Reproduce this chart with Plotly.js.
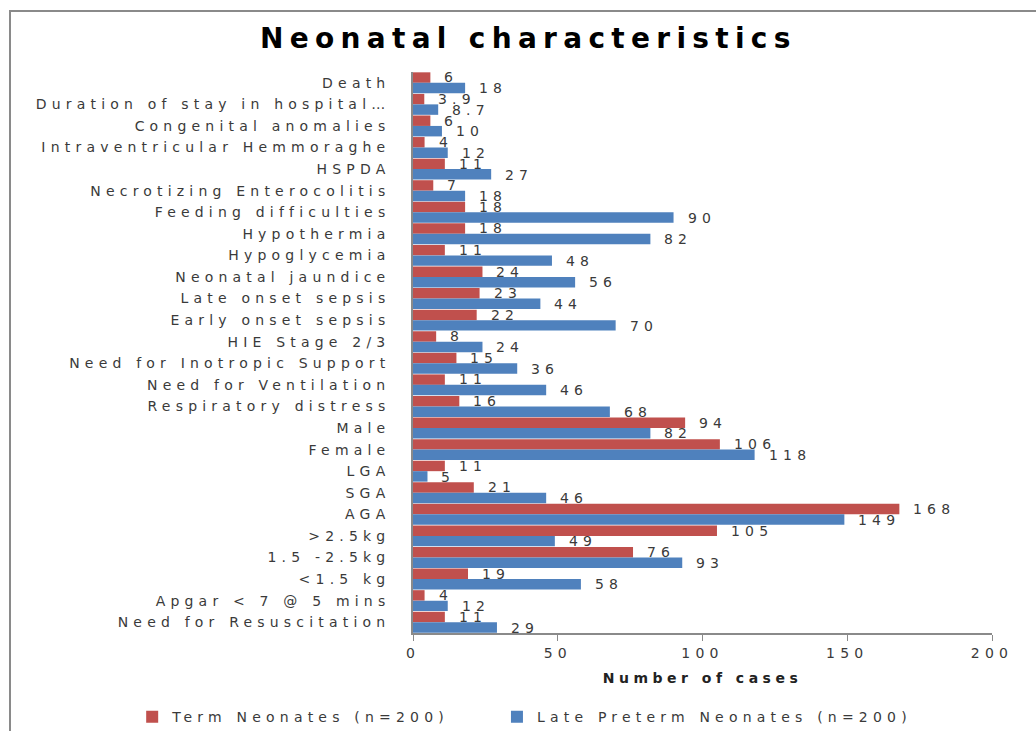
<!DOCTYPE html>
<html>
<head>
<meta charset="utf-8">
<script src="https://cdn.plot.ly/plotly-3.0.1.min.js"></script>
<style>
  html, body { margin: 0; padding: 0; background: #fff; overflow: hidden; }
  #chart { width: 1036px; height: 731px; }
  #frame { position: absolute; left: 9px; top: 10px; width: 1027px; height: 721px; box-sizing: border-box;
           border-left: 2px solid #8a8a8a; border-top: 2px solid #8a8a8a; pointer-events: none; }
  text { letter-spacing: 5.2px; }
  .gtitle { letter-spacing: 6.3px !important; }
  .xtitle { letter-spacing: 4.5px !important; }
</style>
</head>
<body>
<div id="chart"></div>
<div id="frame"></div>
<script>
const categories = [
  "Death",
  "Duration of stay in hospital…",
  "Congenital anomalies",
  "Intraventricular Hemmoraghe",
  "HSPDA",
  "Necrotizing Enterocolitis",
  "Feeding difficulties",
  "Hypothermia",
  "Hypoglycemia",
  "Neonatal jaundice",
  "Late onset sepsis",
  "Early onset sepsis",
  "HIE Stage 2/3",
  "Need for Inotropic Support",
  "Need for Ventilation",
  "Respiratory distress",
  "Male",
  "Female",
  "LGA",
  "SGA",
  "AGA",
  ">2.5kg",
  "1.5 -2.5kg",
  "<1.5 kg",
  "Apgar < 7 @ 5 mins",
  "Need for Resuscitation"
];
const termValues =        [6, 3.9, 6, 4, 11, 7, 18, 18, 11, 24, 23, 22, 8, 15, 11, 16, 94, 106, 11, 21, 168, 105, 76, 19, 4, 11];
const latePretermValues = [18, 8.7, 10, 12, 27, 18, 90, 82, 48, 56, 44, 70, 24, 36, 46, 68, 82, 118, 5, 46, 149, 49, 93, 58, 12, 29];
const seriesNames = ["Term Neonates (n=200)", "Late Preterm Neonates (n=200)"];
const xTicks = [0, 50, 100, 150, 200];

const red = "#C0504D", blue = "#4F81BD";
const txt = "#3a3a3a";
const fontFam = "DejaVu Sans, sans-serif";

const traces = [
  { type: "bar", orientation: "h", name: seriesNames[0], y: categories, x: termValues,
    marker: { color: red }, hoverinfo: "x+y", legend: "legend" },
  { type: "bar", orientation: "h", name: seriesNames[1], y: categories, x: latePretermValues,
    marker: { color: blue }, hoverinfo: "x+y", legend: "legend2" }
];

const annotations = [];
[termValues, latePretermValues].forEach((vals, s) => {
  vals.forEach((v, i) => {
    annotations.push({
      x: v, y: categories[i], xref: "x", yref: "y",
      text: String(v), showarrow: false, xanchor: "left", yanchor: "middle",
      xshift: 12, yshift: s === 0 ? 5.4 : -5.4,
      font: { family: fontFam, size: 14, color: txt }
    });
  });
});

const legendCommon = { orientation: "h", xref: "paper", yref: "paper", xanchor: "left",
  y: -0.15, yanchor: "middle", font: { family: fontFam, size: 14, color: txt },
  itemwidth: 30, bgcolor: "rgba(0,0,0,0)" };

const layout = {
  width: 1036, height: 731,
  margin: { l: 413, r: 44, t: 72, b: 98, autoexpand: false },
  paper_bgcolor: "rgba(0,0,0,0)", plot_bgcolor: "#fff",
  barmode: "group", bargap: 0.03, bargroupgap: 0,
  title: { text: "Neonatal characteristics", x: 0.51, xref: "container", xanchor: "center",
           y: 0.948, yref: "container", yanchor: "middle",
           font: { family: "DejaVu Sans, sans-serif", size: 28, color: "#000", weight: "bold" } },
  xaxis: {
    range: [0, 200], tickvals: xTicks, ticktext: xTicks.map(String),
    showgrid: false, zeroline: false, showline: true, linecolor: "#8a8a8a", linewidth: 1.5,
    ticks: "outside", ticklen: 6, tickcolor: "#8a8a8a",
    tickfont: { family: fontFam, size: 14, color: txt },
    title: { text: "Number of cases", standoff: 14,
             font: { family: fontFam, size: 14, color: "#222", weight: "bold" } },
    fixedrange: true
  },
  yaxis: {
    type: "category", range: [categories.length - 0.5, -0.5],
    showgrid: false, zeroline: false, showline: true, linecolor: "#8a8a8a", linewidth: 1.5,
    ticks: "", ticklabelstandoff: 18,
    tickfont: { family: fontFam, size: 14, color: txt },
    fixedrange: true
  },
  showlegend: true,
  legend: Object.assign({}, legendCommon, { x: -0.485 }),
  legend2: Object.assign({}, legendCommon, { x: 0.145 }),
  annotations: annotations
};

Plotly.newPlot("chart", traces, layout, { displayModeBar: false });
</script>
</body>
</html>
